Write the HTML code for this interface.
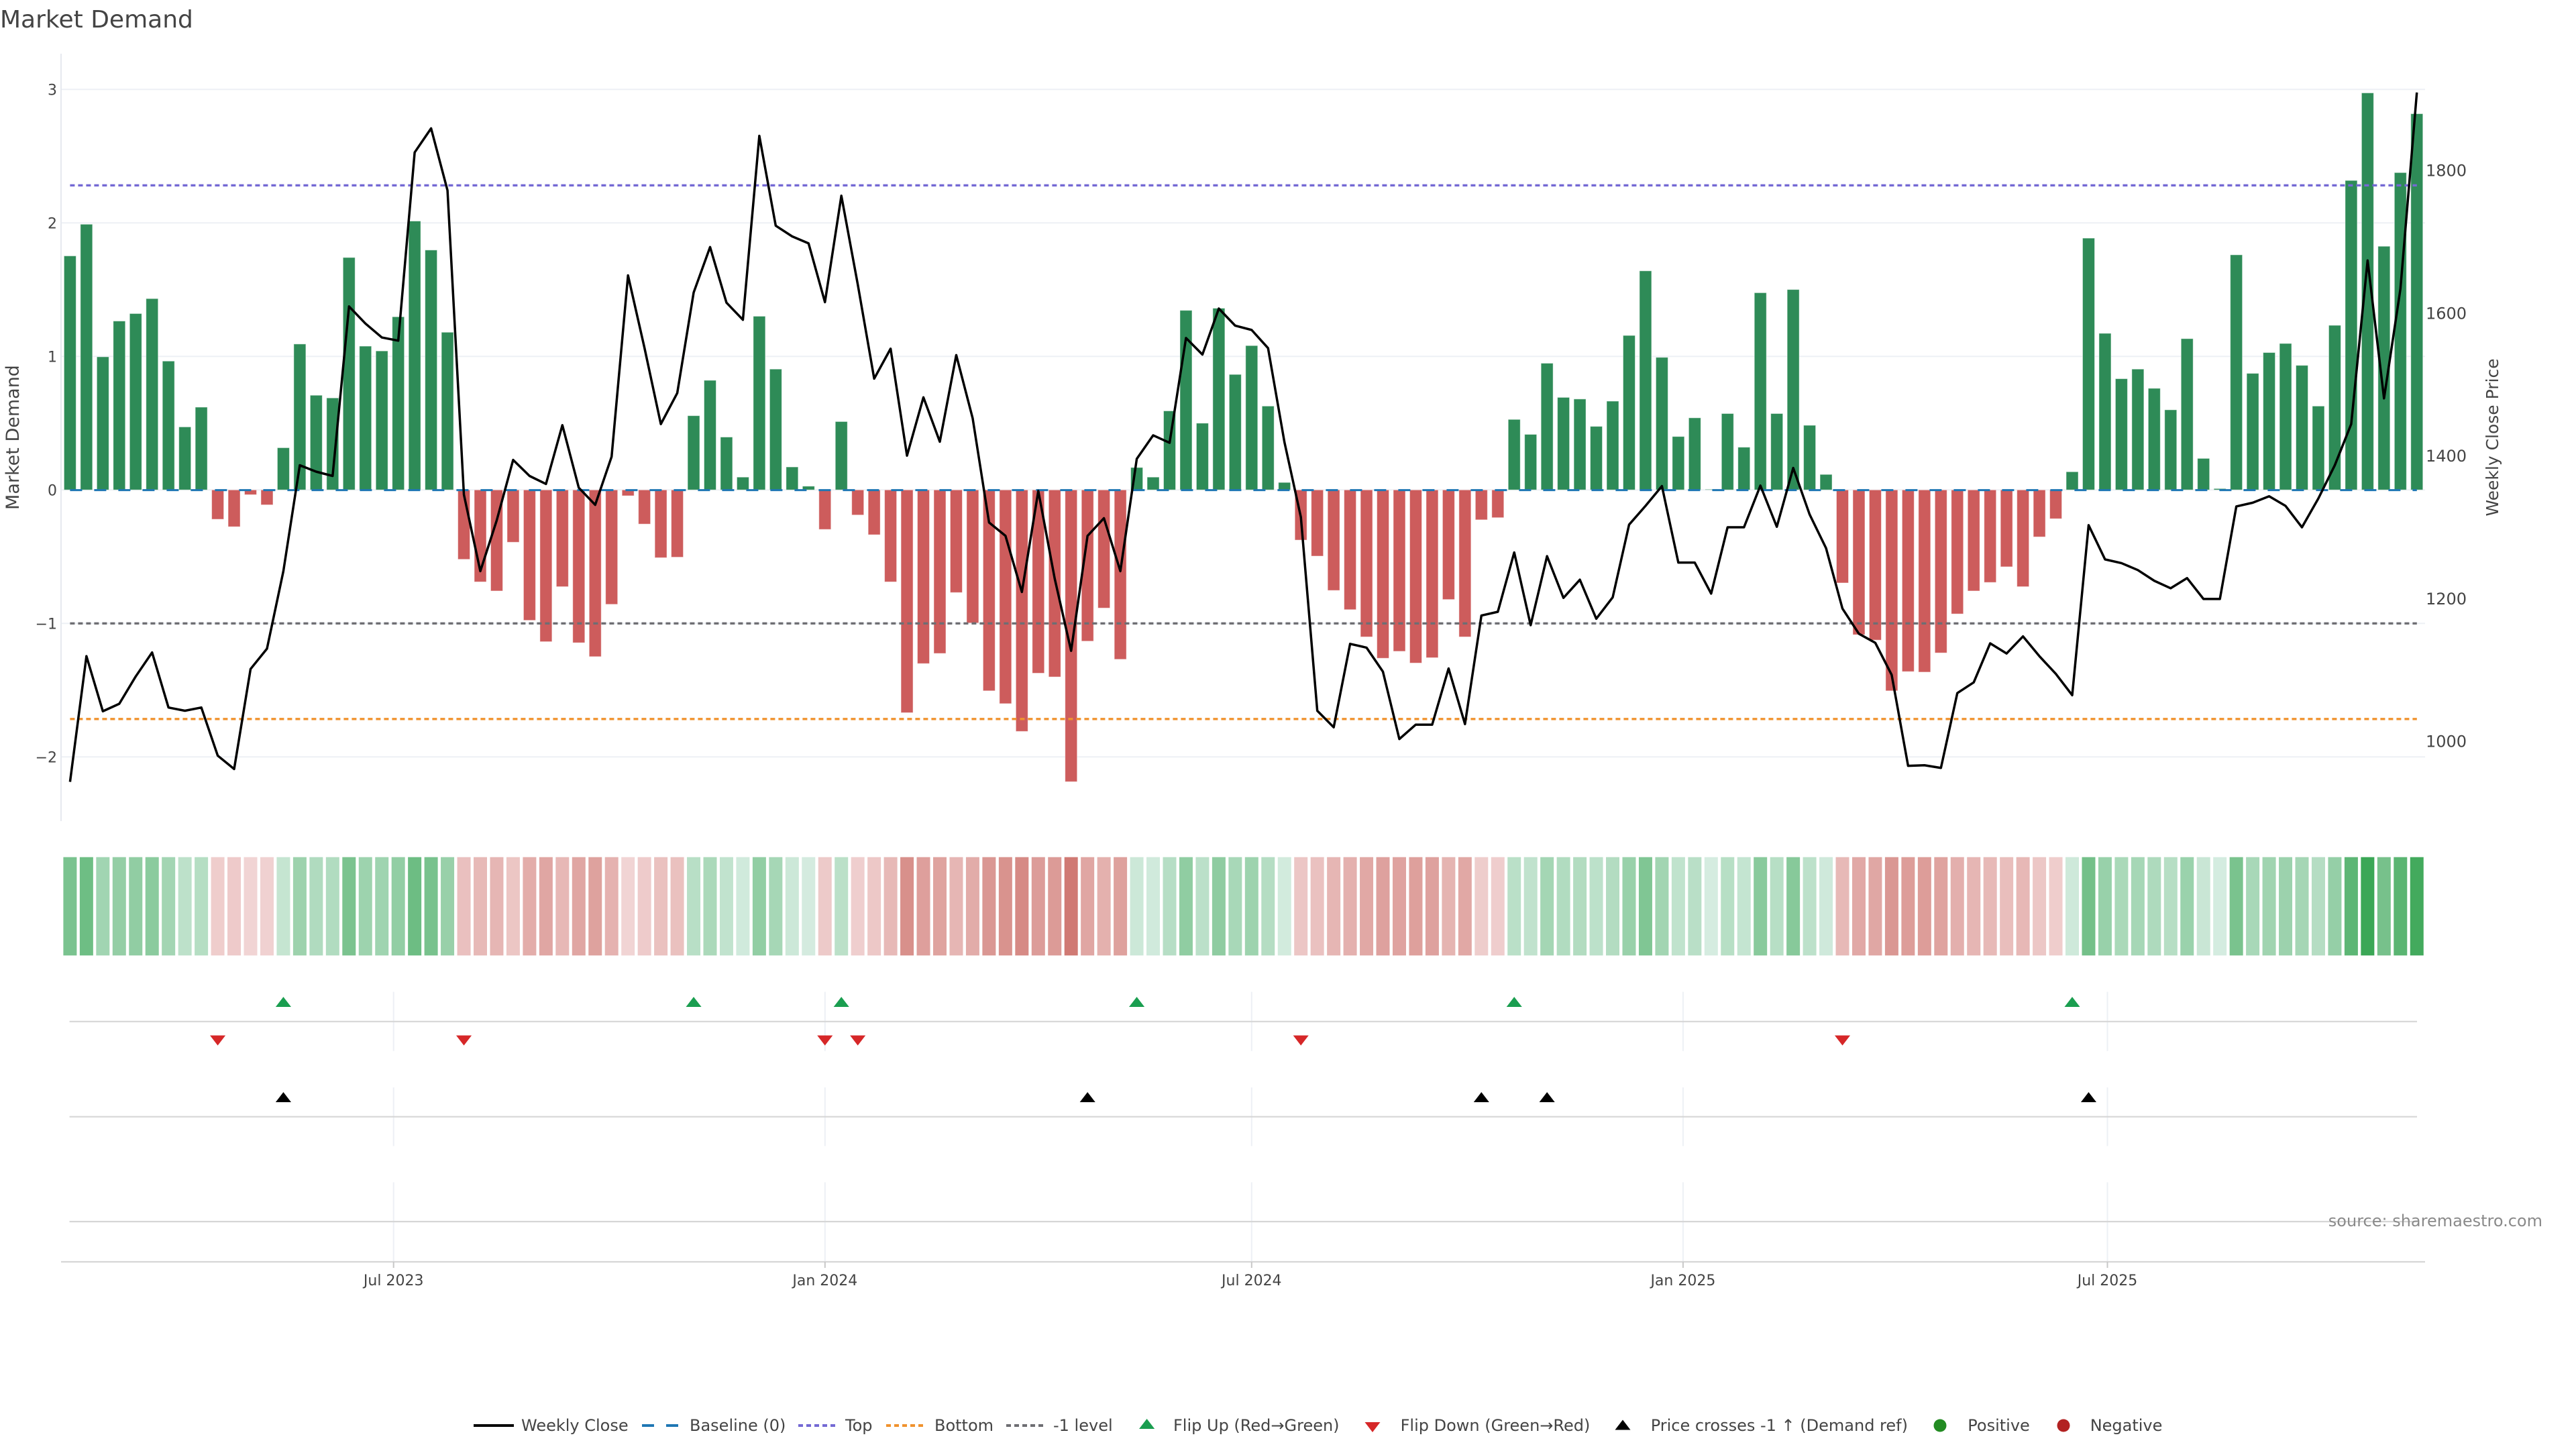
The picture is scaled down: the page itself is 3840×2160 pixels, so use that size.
<!DOCTYPE html>
<html>
<head>
<meta charset="utf-8">
<style>
html,body{margin:0;padding:0;background:#fff;}
svg{display:block;}
text{font-family:"DejaVu Sans","Liberation Sans",sans-serif;fill:#444;}
</style>
</head>
<body>
<svg id="c" xmlns="http://www.w3.org/2000/svg" width="3840" height="2160" viewBox="0 0 3840 2160">
<rect x="0" y="0" width="3840" height="2160" fill="#ffffff"/>

<!-- title -->
<text x="0" y="41" font-size="36">Market Demand</text>

<!-- main panel grid -->
<g stroke="#edf0f5" stroke-width="2">
  <line x1="91" y1="133.3" x2="3615" y2="133.3"/>
  <line x1="91" y1="332.3" x2="3615" y2="332.3"/>
  <line x1="91" y1="531.3" x2="3615" y2="531.3"/>
  <line x1="91" y1="730.3" x2="3615" y2="730.3"/>
  <line x1="91" y1="929.3" x2="3615" y2="929.3"/>
  <line x1="91" y1="1128.3" x2="3615" y2="1128.3"/>
</g>
<line x1="91" y1="80" x2="91" y2="1224" stroke="#e6e9ef" stroke-width="2"/>

<!-- bars -->
<g id="bars"></g>

<!-- reference lines -->
<line x1="104.4" y1="276.3" x2="3602.8" y2="276.3" stroke="#7469d4" stroke-width="3.4" stroke-dasharray="7,5"/>
<line x1="104.4" y1="1071.8" x2="3602.8" y2="1071.8" stroke="#f0922e" stroke-width="3.4" stroke-dasharray="7,5"/>
<line x1="104.4" y1="929.3" x2="3602.8" y2="929.3" stroke="#6e6e73" stroke-width="3.4" stroke-dasharray="7,5"/>
<line x1="104.4" y1="730.6" x2="3602.8" y2="730.6" stroke="#1f77b4" stroke-width="3" stroke-dasharray="18,18"/>

<!-- price line -->
<polyline id="price" fill="none" stroke="#000" stroke-width="3.5" stroke-linejoin="round" points=""/>

<!-- left y ticks -->
<g font-size="22" text-anchor="end">
  <text x="85" y="141.3">3</text>
  <text x="85" y="340.3">2</text>
  <text x="85" y="539.3">1</text>
  <text x="85" y="738.3">0</text>
  <text x="85" y="937.3">−1</text>
  <text x="85" y="1136.3">−2</text>
</g>
<!-- right y ticks -->
<g font-size="24" text-anchor="start">
  <text x="3616" y="262.7">1800</text>
  <text x="3616" y="475.4">1600</text>
  <text x="3616" y="688.1">1400</text>
  <text x="3616" y="900.8">1200</text>
  <text x="3616" y="1113.5">1000</text>
</g>
<text transform="translate(28,652) rotate(-90)" text-anchor="middle" font-size="27">Market Demand</text>
<text transform="translate(3724,652) rotate(-90)" text-anchor="middle" font-size="25">Weekly Close Price</text>

<!-- heatmap -->
<g id="heat"></g>

<!-- lower panels: vertical grid -->
<g stroke="#edf0f5" stroke-width="2">
  <line x1="586.7" y1="1478.5" x2="586.7" y2="1566.8"/>
  <line x1="1229.8" y1="1478.5" x2="1229.8" y2="1566.8"/>
  <line x1="1865.8" y1="1478.5" x2="1865.8" y2="1566.8"/>
  <line x1="2508.9" y1="1478.5" x2="2508.9" y2="1566.8"/>
  <line x1="3141.5" y1="1478.5" x2="3141.5" y2="1566.8"/>
  <line x1="586.7" y1="1621" x2="586.7" y2="1708.4"/>
  <line x1="1229.8" y1="1621" x2="1229.8" y2="1708.4"/>
  <line x1="1865.8" y1="1621" x2="1865.8" y2="1708.4"/>
  <line x1="2508.9" y1="1621" x2="2508.9" y2="1708.4"/>
  <line x1="3141.5" y1="1621" x2="3141.5" y2="1708.4"/>
  <line x1="586.7" y1="1762.4" x2="586.7" y2="1880"/>
  <line x1="1229.8" y1="1762.4" x2="1229.8" y2="1880"/>
  <line x1="1865.8" y1="1762.4" x2="1865.8" y2="1880"/>
  <line x1="2508.9" y1="1762.4" x2="2508.9" y2="1880"/>
  <line x1="3141.5" y1="1762.4" x2="3141.5" y2="1880"/>
</g>
<!-- panel zero lines -->
<g stroke="#d6d6d6" stroke-width="2.2">
  <line x1="103.6" y1="1522.8" x2="3603" y2="1522.8"/>
  <line x1="103.6" y1="1664.7" x2="3603" y2="1664.7"/>
  <line x1="103.6" y1="1821" x2="3603" y2="1821"/>
  <line x1="91" y1="1881" x2="3615" y2="1881"/>
</g>
<!-- x ticks -->
<g stroke="#c8c8c8" stroke-width="2">
  <line x1="586.7" y1="1881" x2="586.7" y2="1890"/>
  <line x1="1229.8" y1="1881" x2="1229.8" y2="1890"/>
  <line x1="1865.8" y1="1881" x2="1865.8" y2="1890"/>
  <line x1="2508.9" y1="1881" x2="2508.9" y2="1890"/>
  <line x1="3141.5" y1="1881" x2="3141.5" y2="1890"/>
</g>
<g font-size="22" text-anchor="middle">
  <text x="586.7" y="1916">Jul 2023</text>
  <text x="1229.8" y="1916">Jan 2024</text>
  <text x="1865.8" y="1916">Jul 2024</text>
  <text x="2508.9" y="1916">Jan 2025</text>
  <text x="3141.5" y="1916">Jul 2025</text>
</g>

<!-- markers -->
<g id="marks"></g>

<text x="3790" y="1828" text-anchor="end" font-size="24" style="fill:#8a8a8a">source: sharemaestro.com</text>

<!-- legend -->
<g font-size="24">
  <line x1="706" y1="2125" x2="766" y2="2125" stroke="#000" stroke-width="4"/>
  <text x="777" y="2133">Weekly Close</text>
  <line x1="957" y1="2125" x2="1011" y2="2125" stroke="#1f77b4" stroke-width="4" stroke-dasharray="18,18"/>
  <text x="1028" y="2133">Baseline (0)</text>
  <line x1="1190" y1="2125" x2="1245" y2="2125" stroke="#7469d4" stroke-width="4" stroke-dasharray="7,5"/>
  <text x="1260" y="2133">Top</text>
  <line x1="1321" y1="2125" x2="1376" y2="2125" stroke="#f0922e" stroke-width="4" stroke-dasharray="7,5"/>
  <text x="1393" y="2133">Bottom</text>
  <line x1="1500" y1="2125" x2="1555" y2="2125" stroke="#6e6e73" stroke-width="4" stroke-dasharray="7,5"/>
  <text x="1570" y="2133">-1 level</text>
  <polygon points="1709.6,2115 1698,2130 1721.2,2130" fill="#1a9e50"/>
  <text x="1749" y="2133">Flip Up (Red→Green)</text>
  <polygon points="2034.5,2120 2057.5,2120 2046,2135" fill="#d62728"/>
  <text x="2087.6" y="2133">Flip Down (Green→Red)</text>
  <polygon points="2419,2116.5 2407.5,2131.5 2430.5,2131.5" fill="#000"/>
  <text x="2460.7" y="2133">Price crosses -1 ↑ (Demand ref)</text>
  <circle cx="2892" cy="2125" r="9.5" fill="#228b22"/>
  <text x="2933.3" y="2133">Positive</text>
  <circle cx="3076" cy="2125" r="9.5" fill="#b22222"/>
  <text x="3115.7" y="2133">Negative</text>
</g>
</svg>

<script>
(function(){
var V=[1.753,1.990,0.997,1.265,1.321,1.433,0.965,0.472,0.620,-0.220,
-0.276,-0.036,-0.112,0.316,1.093,0.709,0.689,1.741,1.077,1.041,
1.297,2.014,1.797,1.181,-0.520,-0.689,-0.757,-0.392,-0.977,-1.137,
-0.725,-1.145,-1.249,-0.857,-0.044,-0.256,-0.508,-0.504,0.556,0.821,
0.396,0.096,1.301,0.905,0.172,0.028,-0.296,0.512,-0.188,-0.336,
-0.689,-1.669,-1.301,-1.225,-0.769,-0.997,-1.505,-1.601,-1.809,-1.373,
-1.401,-2.186,-1.133,-0.885,-1.269,0.168,0.096,0.592,1.345,0.500,
1.361,0.865,1.081,0.628,0.056,-0.376,-0.496,-0.753,-0.897,-1.101,
-1.261,-1.209,-1.297,-1.257,-0.821,-1.101,-0.224,-0.208,0.528,0.416,
0.949,0.693,0.681,0.476,0.665,1.157,1.641,0.993,0.400,0.540,
0.005,0.572,0.320,1.477,0.572,1.501,0.484,0.116,-0.697,-1.085,
-1.125,-1.505,-1.361,-1.365,-1.221,-0.929,-0.757,-0.693,-0.576,-0.725,
-0.352,-0.216,0.136,1.886,1.173,0.833,0.905,0.761,0.600,1.133,
0.236,0.010,1.761,0.873,1.029,1.097,0.933,0.628,1.233,2.318,
2.974,1.825,2.377,2.818];
var PZ=[1462,1227,1330,1316,1265,1220,1323,1329,1323,1413,
1438,1251,1213,1068,870,882,890,573,605,631,
637,285,240,356,925,1068,973,860,890,905,
795,912,944,854,515,650,793,735,547,462,
566,598,254,422,442,455,565,366,532,708,
652,852,743,826,664,782,977,1002,1107,918,
1082,1217,1002,969,1068,858,814,828,632,663,
577,609,617,651,827,967,1329,1360,1204,1211,
1256,1382,1355,1355,1250,1354,1151,1144,1033,1169,
1040,1118,1084,1157,1117,981,946,909,1052,1052,
1110,986,986,908,985,875,962,1025,1138,1185,
1202,1262,1432,1431,1436,1296,1276,1203,1222,1190,
1227,1260,1300,982,1046,1053,1066,1086,1100,1081,
1120,1120,947,940,928,946,986,932,870,793,
487,745,540,173];
var X0=104.4, DX=24.464, Y0=730.3, K=199;
var ns='http://www.w3.org/2000/svg';
function el(tag,a,p){var e=document.createElementNS(ns,tag);for(var k in a)e.setAttribute(k,a[k]);p.appendChild(e);return e;}
var bars=document.getElementById('bars');
var heat=document.getElementById('heat');
function lerp(a,b,t){return 'rgb('+a.map(function(x,j){return Math.round(x+(b[j]-x)*t);}).join(',')+')';}
for(var i=0;i<V.length;i++){
  var v=V[i], cx=X0+DX*i, y1=Y0-K*v;
  var h=Math.abs(y1-Y0); if(h<0.6) h=0.6;
  el('rect',{x:(cx-9).toFixed(2),y:Math.min(Y0,y1).toFixed(2),width:18,height:h.toFixed(2),
    fill:v>=0?'#2e8b57':'#cd5c5c',stroke:'rgba(255,255,255,0.5)','stroke-width':1},bars);
  var t=Math.min(Math.abs(v)/3,1);
  var c=v>=0?lerp([213,236,224],[58,166,85],t):lerp([242,214,214],[195,88,80],t);
  el('rect',{x:(cx-10).toFixed(2),y:1277.7,width:20,height:146.6,fill:c},heat);
}
var pts=[];
for(var j=0;j<PZ.length;j++){pts.push((X0+DX*j).toFixed(2)+','+(PZ[j]/1.2544).toFixed(2));}
document.getElementById('price').setAttribute('points',pts.join(' '));
var marks=document.getElementById('marks');
function up(i,cy,col){var x=X0+DX*i;el('polygon',{points:x+','+(cy-10)+' '+(x-11.55)+','+(cy+5)+' '+(x+11.55)+','+(cy+5),fill:col},marks);}
function dn(i,cy,col){var x=X0+DX*i;el('polygon',{points:(x-11.55)+','+(cy-5)+' '+(x+11.55)+','+(cy-5)+' '+x+','+(cy+10),fill:col},marks);}
[13,38,47,65,88,122].forEach(function(i){up(i,1496,'#1a9e50');});
[9,24,46,48,75,108].forEach(function(i){dn(i,1548.5,'#d62728');});
[13,62,86,90,123].forEach(function(i){up(i,1638,'#000');});
})();
</script>
</body>
</html>
